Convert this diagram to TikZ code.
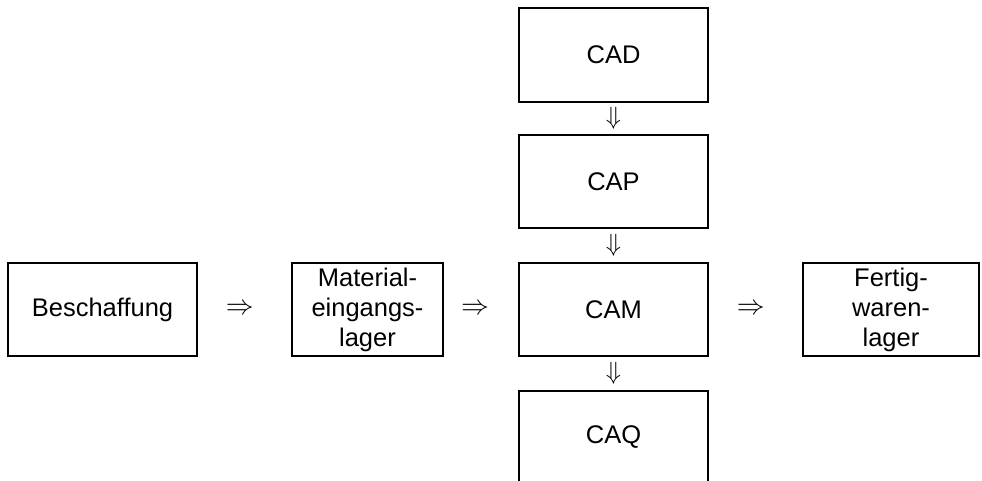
\documentclass[tikz,border=0pt]{standalone}
\usepackage{fontspec}
\setmainfont{Liberation Sans}
\usetikzlibrary{calc}
\begin{document}
\begin{tikzpicture}[x=1pt,y=1pt,
  box/.style={draw=black,line width=2.2pt,inner sep=0pt,minimum height=93pt,align=center,
    font=\fontsize{25.5}{30}\selectfont},
  sym/.style={inner sep=0pt,font=\fontsize{24}{24}\selectfont}]
\useasboundingbox (0,0) rectangle (982,-481);
\node[box,minimum width=189pt] (besch) at (102.5,-309.5) {Beschaffung};
\node[box,minimum width=151pt] (mat) at (367.5,-309.5) {Material-\\eingangs-\\lager};
\node[box,minimum width=189pt] (cam) at (613.5,-309.5) {CAM};
\node[box,minimum width=176pt] (fert) at (891,-309.5) {Fertig-\\waren-\\lager};
\node[box,minimum width=189pt,minimum height=94pt] (cad) at (613.5,-55) {CAD};
\node[box,minimum width=189pt] (cap) at (613.5,-181.5) {CAP};
\node[box,minimum width=189pt] (caq) at (613.5,-437.5) {CAQ};
\node[sym] (r1) at ($(besch.east)!0.45!(mat.west)$) {\scalebox{1.12}{$\Rightarrow$}};
\node[sym] (r2) at ($(mat.east)!0.42!(cam.west)$) {\scalebox{1.12}{$\Rightarrow$}};
\node[sym] (r3) at ($(cam.east)!0.45!(fert.west)$) {\scalebox{1.12}{$\Rightarrow$}};
\node[sym] (d1) at ($(cad.south)!0.5!(cap.north)$) {\scalebox{1.0}{$\Downarrow$}};
\node[sym] (d2) at ($(cap.south)!0.5!(cam.north)$) {\scalebox{1.0}{$\Downarrow$}};
\node[sym] (d3) at ($(cam.south)!0.5!(caq.north)$) {\scalebox{1.0}{$\Downarrow$}};
\end{tikzpicture}
\end{document}
